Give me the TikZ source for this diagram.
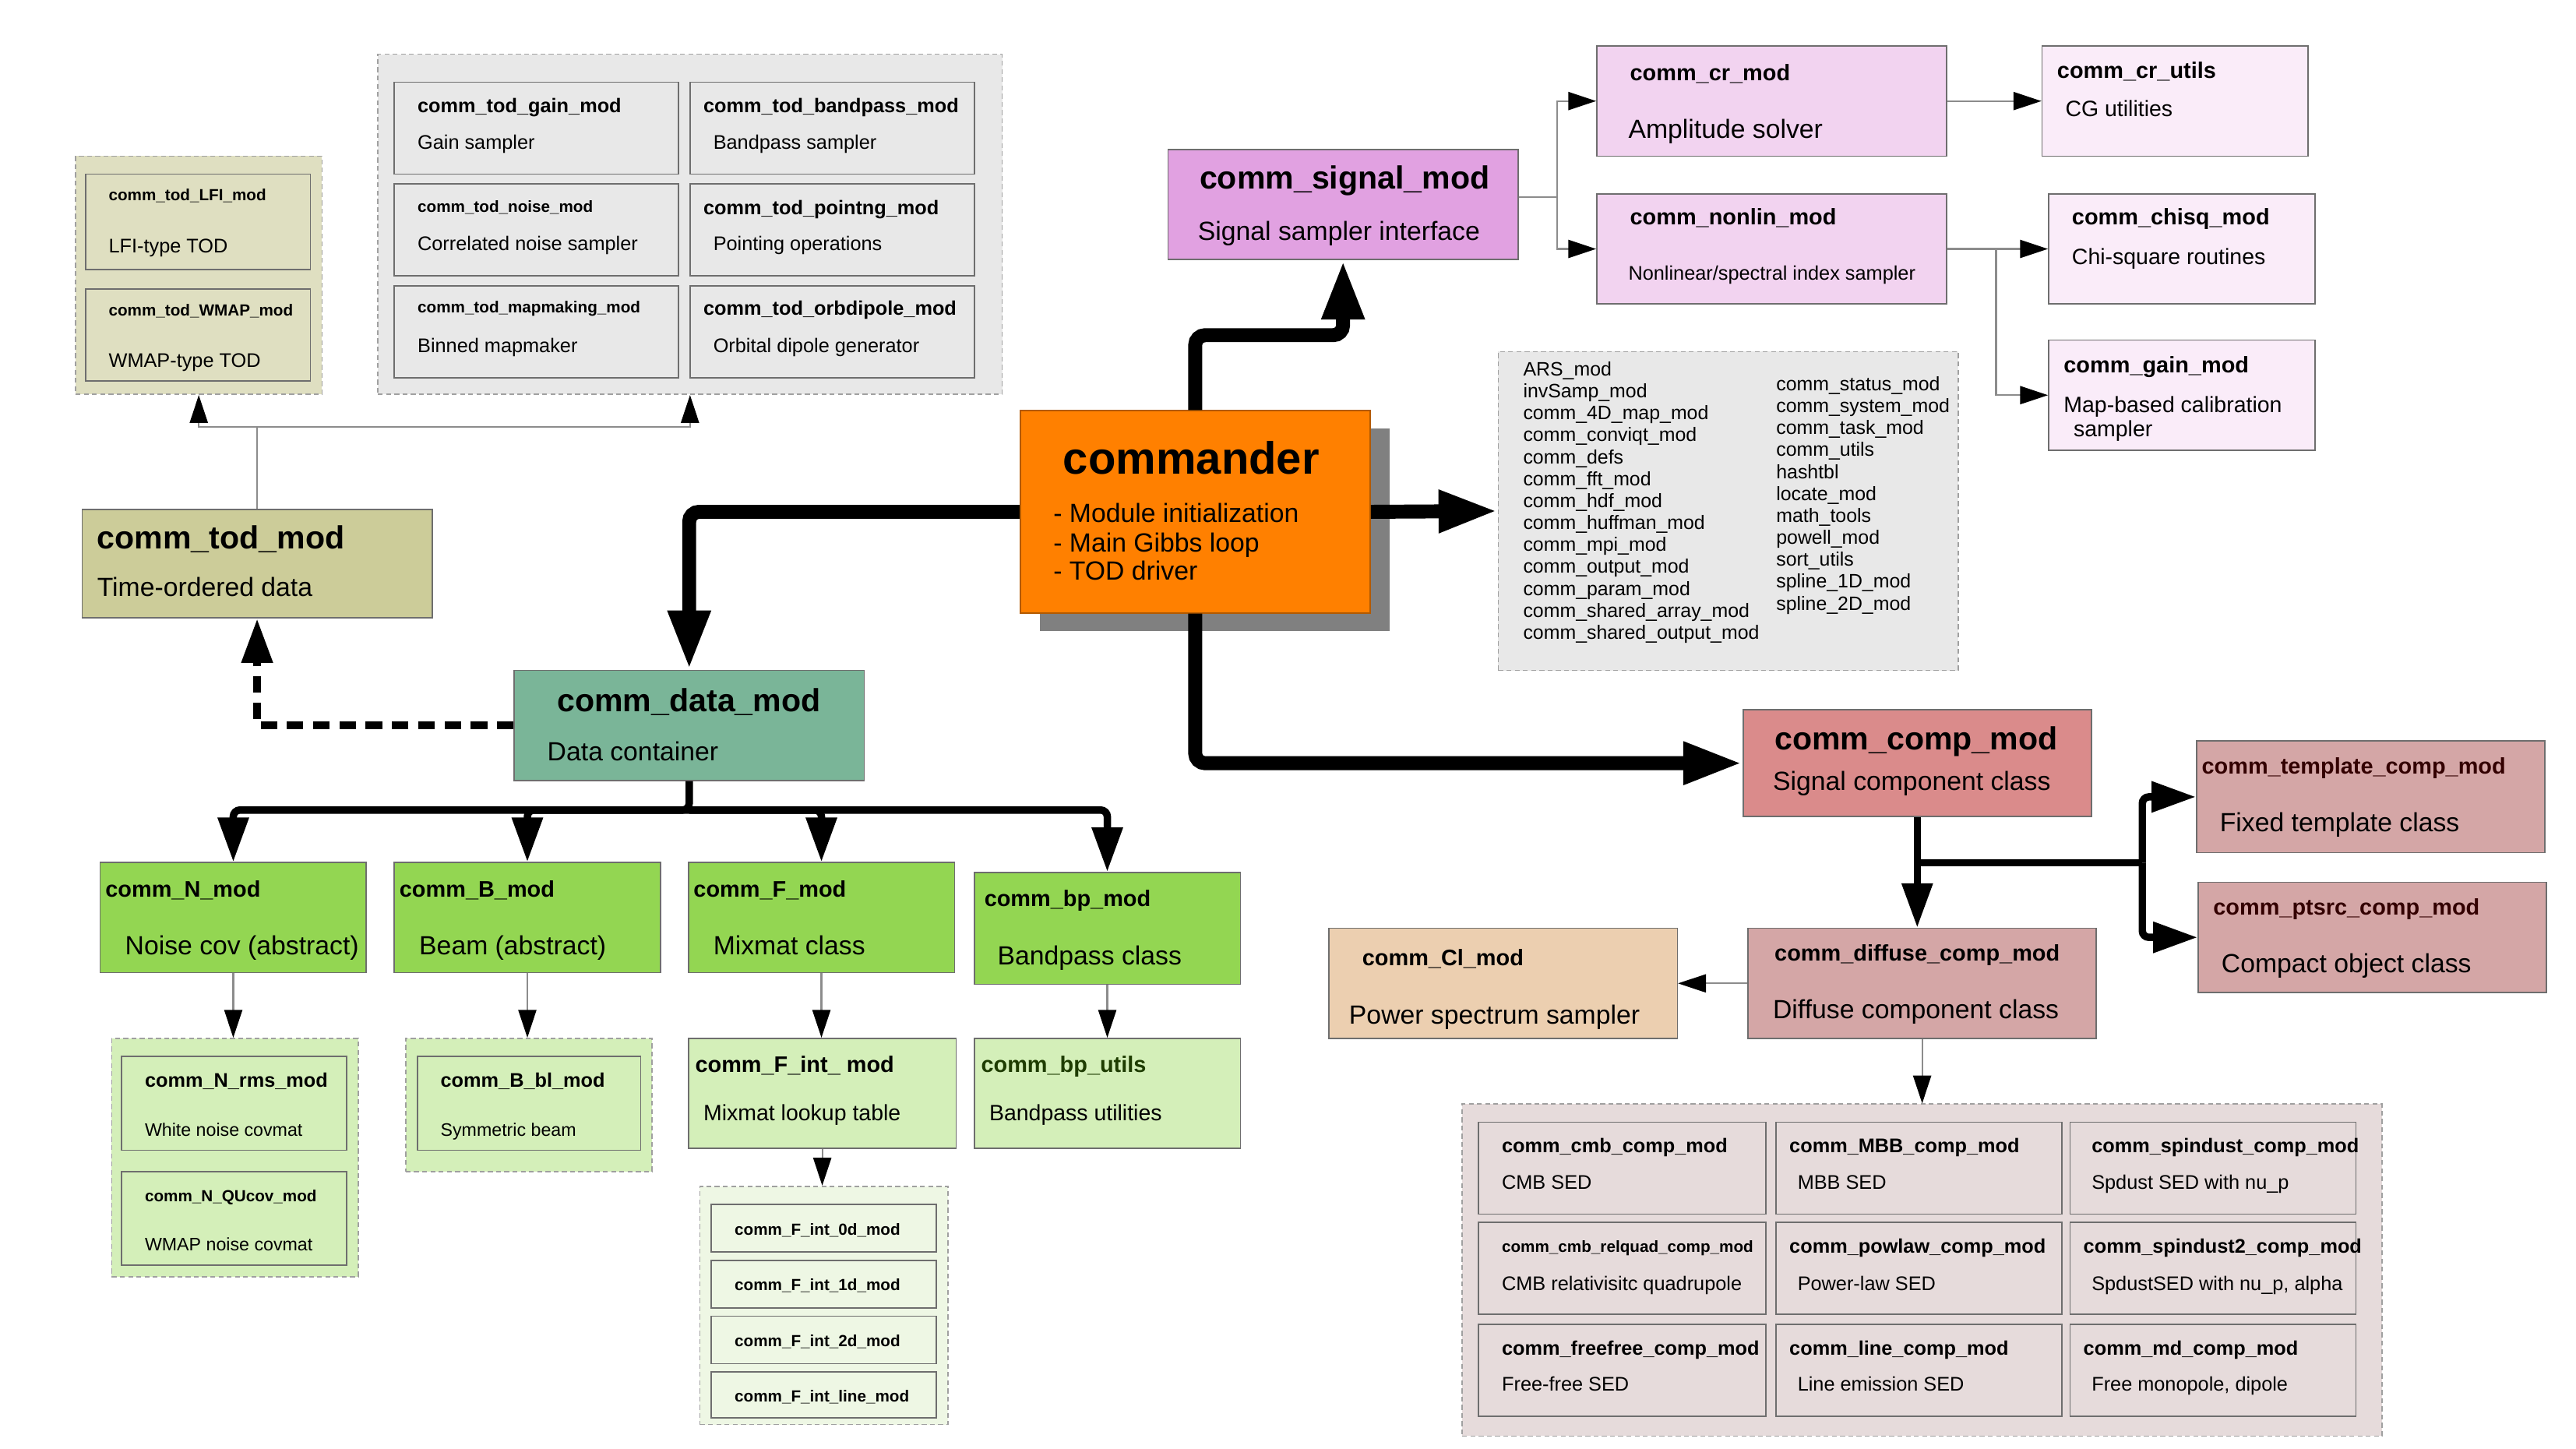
\documentclass[tikz,border=0pt]{standalone}
\usepackage{fontspec}
\setmainfont{Liberation Sans}
\usetikzlibrary{shapes,arrows.meta,fit,positioning,shadows}
\definecolor{todgrp}{RGB}{232,232,232}
\definecolor{lfigrp}{RGB}{223,223,193}
\definecolor{todc}{RGB}{204,204,153}
\definecolor{datac}{RGB}{122,181,152}
\definecolor{cmdc}{RGB}{255,128,0}
\definecolor{shadowc}{RGB}{128,128,128}
\definecolor{sigc}{RGB}{225,161,225}
\definecolor{crc}{RGB}{242,211,240}
\definecolor{cruc}{RGB}{250,236,249}
\definecolor{compc}{RGB}{218,139,139}
\definecolor{diffc}{RGB}{212,166,166}
\definecolor{clc}{RGB}{236,207,176}
\definecolor{cgrpc}{RGB}{230,219,219}
\definecolor{greenc}{RGB}{147,214,82}
\definecolor{lgreenc}{RGB}{212,239,185}
\definecolor{fintc}{RGB}{238,247,228}
\definecolor{boxline}{RGB}{110,110,110}
\definecolor{grpline}{RGB}{160,160,160}
\definecolor{linegray}{RGB}{140,140,140}
\definecolor{tmplink}{RGB}{51,0,0}
\definecolor{dkgreen}{RGB}{30,60,0}

\begin{document}
\begin{tikzpicture}[% one unit = one point, y runs downwards
		x=1pt,y=-1pt,
		box/.style={rectangle,draw=boxline,line width=0.8pt,inner sep=0pt},	% module rectangle
		grp/.style={rectangle,draw=grpline,dash pattern=on 3pt off 2pt,line width=0.8pt,inner sep=0pt},	% dashed group
		txt/.style={anchor=mid west,inner sep=0pt},
		cmdt/.style={txt,yshift=-5pt,font=\bfseries\fontsize{27.5}{30}\selectfont},
		bigt/.style={txt,yshift=-3.5pt,font=\bfseries\fontsize{19.5}{22}\selectfont},
		bigd/.style={txt,yshift=-2.5pt,font=\fontsize{16}{19}\selectfont},
		medt/.style={txt,yshift=-2.2pt,font=\bfseries\fontsize{13.7}{16}\selectfont},
		medd/.style={txt,yshift=-2.2pt,font=\fontsize{13.5}{16}\selectfont},
		smt/.style={txt,yshift=-2pt,font=\bfseries\fontsize{12}{14}\selectfont},
		smd/.style={txt,yshift=-2pt,font=\fontsize{12}{14}\selectfont},
		ssd/.style={txt,yshift=-1.8pt,font=\fontsize{11}{13}\selectfont},
		tint/.style={txt,yshift=-1.5pt,font=\bfseries\fontsize{9.8}{12}\selectfont},
		lst/.style={anchor=north west,inner sep=0pt,align=left,font=\fontsize{11.8}{13.35}\selectfont},
		thk/.style={line width=8.5pt,rounded corners=6pt,-{Triangle[length=36pt,width=24pt]}},	% main calls
		med/.style={line width=4.5pt,rounded corners=4pt,-{Triangle[length=27pt,width=18pt]}},
		dsh/.style={line width=5pt,dash pattern=on 10pt off 6pt,-{Triangle[length=27pt,width=18pt]}},
		thinarr/.style={draw=linegray,line width=1pt,-{Triangle[length=17pt,width=11pt,color=black]}}
	]
	\fill[white] (0,0) rectangle (1568,881.9);
	\useasboundingbox (0,0) rectangle (1568,881.9);

	% TOD modules
	\node[grp,fill=todgrp,fit={(230,33) (610,240)}](TodGrp){};
	\node[box,fill=todgrp,fit={(240,50) (413,106)}](TGain){};
	\node[box,fill=todgrp,fit={(420,50) (593,106)}](TBand){};
	\node[box,fill=todgrp,fit={(240,112) (413,168)}](TNoise){};
	\node[box,fill=todgrp,fit={(420,112) (593,168)}](TPoint){};
	\node[box,fill=todgrp,fit={(240,174) (413,230)}](TMap){};
	\node[box,fill=todgrp,fit={(420,174) (593,230)}](TOrb){};
	\node[smt] at (254,64) {comm\_tod\_gain\_mod};
	\node[smd] at (254,86) {Gain sampler};
	\node[smt] at (428,64) {comm\_tod\_bandpass\_mod};
	\node[smd] at (434,86) {Bandpass sampler};
	\node[tint] at (254,125) {comm\_tod\_noise\_mod};
	\node[smd] at (254,148) {Correlated noise sampler};
	\node[smt] at (428,126) {comm\_tod\_pointng\_mod};
	\node[smd] at (434,148) {Pointing operations};
	\node[tint] at (254,186) {comm\_tod\_mapmaking\_mod};
	\node[smd] at (254,210) {Binned mapmaker};
	\node[smt] at (428,187) {comm\_tod\_orbdipole\_mod};
	\node[smd] at (434,210) {Orbital dipole generator};

	\node[grp,fill=lfigrp,fit={(46,95) (196,240)}](LfiGrp){};
	\node[box,fill=lfigrp,fit={(52,106) (189,164)}](TLfi){};
	\node[box,fill=lfigrp,fit={(52,176) (189,232)}](TWmap){};
	\node[tint] at (66,118) {comm\_tod\_LFI\_mod};
	\node[smd] at (66,149) {LFI-type TOD};
	\node[tint] at (66,188) {comm\_tod\_WMAP\_mod};
	\node[smd] at (66,219) {WMAP-type TOD};

	\node[box,fill=todc,fit={(50,310) (263,376)}](Tod){};
	\node[bigt] at (59,328) {comm\_tod\_mod};
	\node[bigd] at (59,358) {Time-ordered data};

	% main program
	\node[box,draw=cmdc!70!black,fill=cmdc,drop shadow={shadow xshift=12pt,shadow yshift=-11pt,fill=shadowc,opacity=1},fit={(621,250) (834,373)}](Cmd){};
	\node[cmdt] at (647,281) {commander};
	\node[bigd] at (641,313) {- Module initialization};
	\node[bigd] at (641,331) {- Main Gibbs loop};
	\node[bigd] at (641,348) {- TOD driver};

	\node[box,fill=datac,fit={(313,408) (526,475)}](Data){};
	\node[bigt] at (339,427) {comm\_data\_mod};
	\node[bigd] at (333,458) {Data container};

	% signal sampler side
	\node[box,fill=sigc,fit={(711,91) (924,158)}](Sig){};
	\node[bigt] at (730,109) {comm\_signal\_mod};
	\node[bigd] at (729,141) {Signal sampler interface};
	\node[box,fill=crc,fit={(972,28) (1185,95)}](Cr){};
	\node[medt] at (992,44) {comm\_cr\_mod};
	\node[bigd] at (991,79) {Amplitude solver};
	\node[box,fill=crc,fit={(972,118) (1185,185)}](Nonlin){};
	\node[medt] at (992,132) {comm\_nonlin\_mod};
	\node[smd] at (991,166) {Nonlinear/spectral index sampler};
	\node[box,fill=cruc,fit={(1243,28) (1405,95)}](CrU){};
	\node[medt] at (1252,43) {comm\_cr\_utils};
	\node[medd] at (1257,66) {CG utilities};
	\node[box,fill=cruc,fit={(1247,118) (1409,185)}](Chi){};
	\node[medt] at (1261,132) {comm\_chisq\_mod};
	\node[medd] at (1261,156) {Chi-square routines};
	\node[box,fill=cruc,fit={(1247,207) (1409,274)}](GainM){};
	\node[medt] at (1256,222) {comm\_gain\_mod};
	\node[medd] at (1256,246) {Map-based calibration};
	\node[medd] at (1262,261) {sampler};

	% utilities
	\node[grp,fill=todgrp,fit={(912,214) (1192,408)}](Ars){};
	\node[lst] at (927,220) {ARS\_mod\\invSamp\_mod\\comm\_4D\_map\_mod\\comm\_conviqt\_mod\\comm\_defs\\comm\_fft\_mod\\comm\_hdf\_mod\\comm\_huffman\_mod\\comm\_mpi\_mod\\comm\_output\_mod\\comm\_param\_mod\\comm\_shared\_array\_mod\\comm\_shared\_output\_mod};
	\node[lst] at (1081,229) {comm\_status\_mod\\comm\_system\_mod\\comm\_task\_mod\\comm\_utils\\hashtbl\\locate\_mod\\math\_tools\\powell\_mod\\sort\_utils\\spline\_1D\_mod\\spline\_2D\_mod};

	% components
	\node[box,fill=compc,fit={(1061,432) (1273,497)}](Comp){};
	\node[bigt] at (1080,450) {comm\_comp\_mod};
	\node[bigd] at (1079,476) {Signal component class};
	\node[box,fill=diffc,fit={(1337,451) (1549,519)}](Tmpl){};
	\node[medt,text=tmplink] at (1340,466) {comm\_template\_comp\_mod};
	\node[bigd] at (1351,501) {Fixed template class};
	\node[box,fill=diffc,fit={(1338,537) (1550,604)}](Ptsrc){};
	\node[medt,text=tmplink] at (1347,552) {comm\_ptsrc\_comp\_mod};
	\node[bigd] at (1352,587) {Compact object class};
	\node[box,fill=diffc,fit={(1064,565) (1276,632)}](Diff){};
	\node[medt] at (1080,580) {comm\_diffuse\_comp\_mod};
	\node[bigd] at (1079,615) {Diffuse component class};
	\node[box,fill=clc,fit={(809,565) (1021,632)}](Cl){};
	\node[medt] at (829,583) {comm\_Cl\_mod};
	\node[bigd] at (821,618) {Power spectrum sampler};

	\node[grp,fill=cgrpc,fit={(890,672) (1450,874)}](CGrp){};
	\node[box,fill=cgrpc,fit={(900,683) (1075,739)}](Cmb){};
	\node[box,fill=cgrpc,fit={(1081,683) (1255,739)}](Mbb){};
	\node[box,fill=cgrpc,fit={(1260,683) (1434,739)}](Spd){};
	\node[box,fill=cgrpc,fit={(900,744) (1075,800)}](Relq){};
	\node[box,fill=cgrpc,fit={(1081,744) (1255,800)}](Pow){};
	\node[box,fill=cgrpc,fit={(1260,744) (1434,800)}](SpdB){};
	\node[box,fill=cgrpc,fit={(900,806) (1075,862)}](Ff){};
	\node[box,fill=cgrpc,fit={(1081,806) (1255,862)}](Line){};
	\node[box,fill=cgrpc,fit={(1260,806) (1434,862)}](Md){};
	\node[smt] at (914,697) {comm\_cmb\_comp\_mod};
	\node[smd] at (914,719) {CMB SED};
	\node[smt] at (1089,697) {comm\_MBB\_comp\_mod};
	\node[smd] at (1094,719) {MBB SED};
	\node[smt] at (1273,697) {comm\_spindust\_comp\_mod};
	\node[smd] at (1273,719) {Spdust SED with nu\_p};
	\node[tint] at (914,758) {comm\_cmb\_relquad\_comp\_mod};
	\node[smd] at (914,781) {CMB relativisitc quadrupole};
	\node[smt] at (1089,758) {comm\_powlaw\_comp\_mod};
	\node[smd] at (1094,781) {Power-law SED};
	\node[smt] at (1268,758) {comm\_spindust2\_comp\_mod};
	\node[smd] at (1273,781) {SpdustSED with nu\_p, alpha};
	\node[smt] at (914,820) {comm\_freefree\_comp\_mod};
	\node[smd] at (914,842) {Free-free SED};
	\node[smt] at (1089,820) {comm\_line\_comp\_mod};
	\node[smd] at (1094,842) {Line emission SED};
	\node[smt] at (1268,820) {comm\_md\_comp\_mod};
	\node[smd] at (1273,842) {Free monopole, dipole};

	% data modules
	\node[box,fill=greenc,fit={(61,525) (223,592)}](N){};
	\node[medt] at (64,541) {comm\_N\_mod};
	\node[bigd] at (76,576) {Noise cov (abstract)};
	\node[box,fill=greenc,fit={(240,525) (402,592)}](B){};
	\node[medt] at (243,541) {comm\_B\_mod};
	\node[bigd] at (255,576) {Beam (abstract)};
	\node[box,fill=greenc,fit={(419,525) (581,592)}](F){};
	\node[medt] at (422,541) {comm\_F\_mod};
	\node[bigd] at (434,576) {Mixmat class};
	\node[box,fill=greenc,fit={(593,531) (755,599)}](Bp){};
	\node[medt] at (599,547) {comm\_bp\_mod};
	\node[bigd] at (607,582) {Bandpass class};

	\node[grp,fill=lgreenc,fit={(68,632) (218,777)}](NGrp){};
	\node[box,fill=lgreenc,fit={(74,643) (211,700)}](Nrms){};
	\node[smt] at (88,657) {comm\_N\_rms\_mod};
	\node[ssd] at (88,687) {White noise covmat};
	\node[box,fill=lgreenc,fit={(74,713) (211,770)}](Nqu){};
	\node[tint] at (88,727) {comm\_N\_QUcov\_mod};
	\node[ssd] at (88,757) {WMAP noise covmat};
	\node[grp,fill=lgreenc,fit={(247,632) (397,713)}](BGrp){};
	\node[box,fill=lgreenc,fit={(254,643) (390,700)}](Bbl){};
	\node[smt] at (268,657) {comm\_B\_bl\_mod};
	\node[ssd] at (268,687) {Symmetric beam};
	\node[box,fill=lgreenc,fit={(419,632) (582,699)}](Fint){};
	\node[medt] at (423,648) {comm\_F\_int\_ mod};
	\node[medd] at (428,677) {Mixmat lookup table};
	\node[box,fill=lgreenc,fit={(593,632) (755,699)}](Bpu){};
	\node[medt,text=dkgreen] at (597,648) {comm\_bp\_utils};
	\node[medd] at (602,677) {Bandpass utilities};
	\node[grp,fill=fintc,fit={(426,722) (577,867)}](FGrp){};
	\node[box,fill=fintc,fit={(433,733) (570,762)}](F0){};
	\node[box,fill=fintc,fit={(433,767) (570,796)}](F1){};
	\node[box,fill=fintc,fit={(433,801) (570,830)}](F2){};
	\node[box,fill=fintc,fit={(433,835) (570,863)}](Fl){};
	\node[tint] at (447,747.5) {comm\_F\_int\_0d\_mod};
	\node[tint] at (447,781.5) {comm\_F\_int\_1d\_mod};
	\node[tint] at (447,815.5) {comm\_F\_int\_2d\_mod};
	\node[tint] at (447,849) {comm\_F\_int\_line\_mod};

	% connectors
	\coordinate (TB) at (156.5,260);
	\draw[thinarr] (Tod.north) -- (TB) -| (LfiGrp.south);
	\draw[thinarr] (TB) -| (TodGrp.south);
	\draw[dsh] (Data.west) -| (Tod.south);

	\coordinate (CS) at (727.5,204);
	\draw[thk] (Cmd.west) -| (Data.north);
	\draw[thk] (Cmd.north) -- (CS) -| (Sig.south);
	\draw[thk] (Cmd.east) -- (Ars.west);
	\draw[thk] (Cmd.south) |- (Comp.west);

	\coordinate (DB) at (419.5,493);
	\draw[med] (Data.south) -- (DB) -| (N.north);
	\draw[med] (DB) -| (B.north);
	\draw[med] (DB) -| (F.north);
	\draw[med] (DB) -| (Bp.north);
	\draw[thinarr] (N.south) -- (N.south |- NGrp.north);
	\draw[thinarr] (B.south) -- (B.south |- BGrp.north);
	\draw[thinarr] (F.south) -- (F.south |- Fint.north);
	\draw[thinarr] (Bp.south) -- (Bp.south |- Bpu.north);
	\draw[thinarr] (Fint.south) -- (Fint.south |- FGrp.north);

	\coordinate (SB) at (948,120);
	\coordinate (NB) at (1215,151.5);
	\draw[thinarr] (Sig.east |- SB) -- (SB) |- (Cr.west);
	\draw[thinarr] (SB) |- (Nonlin.west);
	\draw[thinarr] (Cr.east) -- (CrU.west);
	\draw[thinarr] (Nonlin.east) -- (Chi.west);
	\draw[thinarr] (NB) |- (GainM.west);

	\coordinate (CB) at (1167,525);
	\coordinate (CB2) at (1304,525);
	\draw[med] (Comp.south) -- (Comp.south |- Diff.north);
	\draw[med,-] (CB) -- (CB2);
	\draw[med] (CB2) |- (Tmpl.west);
	\draw[med] (CB2) |- (Ptsrc.west);
	\draw[thinarr] (Diff.west) -- (Cl.east);
	\draw[thinarr] (Diff.south) -- (Diff.south |- CGrp.north);
\end{tikzpicture}
\end{document}
